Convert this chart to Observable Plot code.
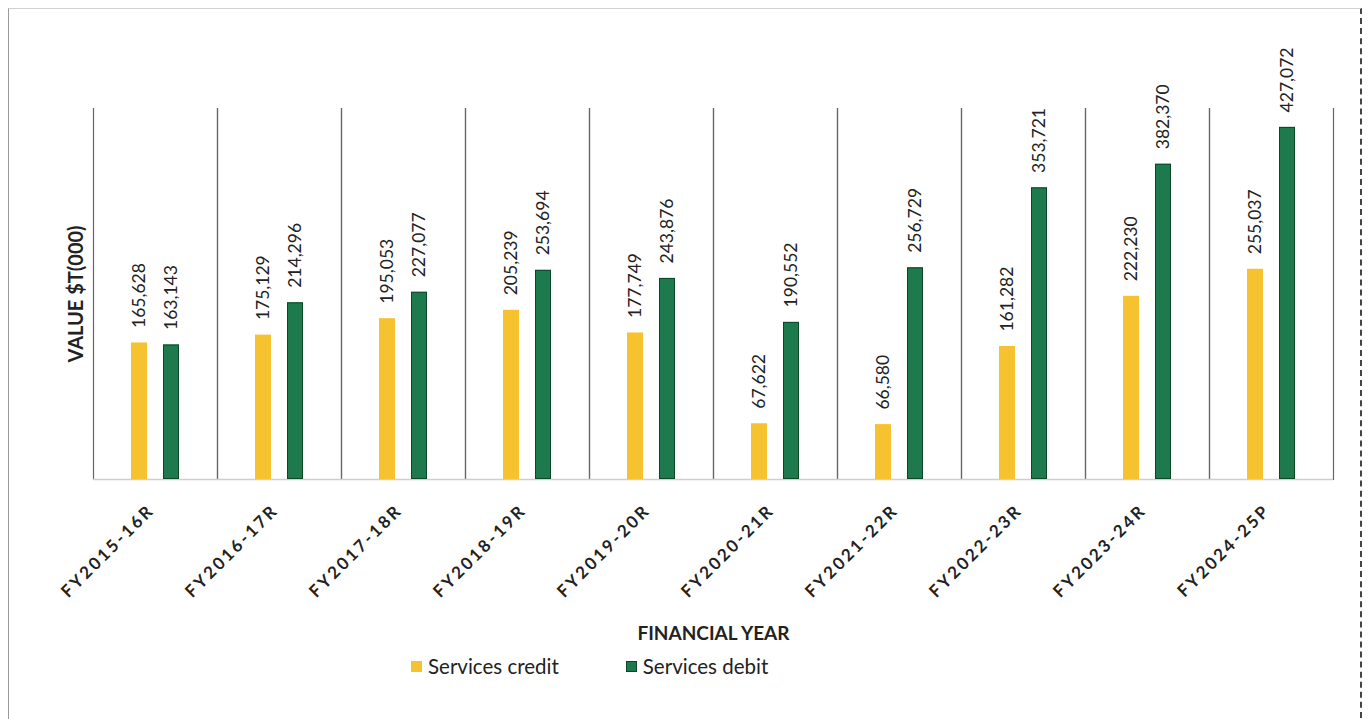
<!DOCTYPE html>
<html><head><meta charset="utf-8">
<script src="https://cdn.jsdelivr.net/npm/d3@7"></script>
<script src="https://cdn.jsdelivr.net/npm/@observablehq/plot@0.6"></script>
<style>
html,body{margin:0;padding:0;background:#fff;}
#wrap{position:relative;width:1368px;height:719px;overflow:hidden;font-family:Lato,"Open Sans",sans-serif;}
#border{position:absolute;left:8px;top:8px;width:1354px;height:730px;border-left:1.5px solid #999;border-top:1px solid #d0d0d0;border-right:2px dashed #444;box-sizing:border-box;}
#chart{position:absolute;left:0;top:0;}
#legend{position:absolute;top:654px;left:411px;display:flex;align-items:center;font-size:20.5px;color:#222;}
.item{display:flex;align-items:center;}
.sw{width:11px;height:11px;margin-right:6px;box-sizing:border-box;}
</style></head>
<body>
<div id="wrap"><div id="border"></div><div id="chart"></div><div id="legend"></div></div>
<script>
const years = ["FY2015-16R","FY2016-17R","FY2017-18R","FY2018-19R","FY2019-20R","FY2020-21R","FY2021-22R","FY2022-23R","FY2023-24R","FY2024-25P"];
const seriesNames = ["Services credit","Services debit"];
const credit = [165628,175129,195053,205239,177749,67622,66580,161282,222230,255037];
const debit = [163143,214296,227077,253694,243876,190552,256729,353721,382370,427072];
const colors = ["#F6C230","#1C7A4C"];
const yLabel = "VALUE $T(000)";
const xLabel = "FINANCIAL YEAR";

const data = years.flatMap((y,i)=>[
  {year:y, series:seriesNames[0], value:credit[i]},
  {year:y, series:seriesNames[1], value:debit[i]}
]);
const fmt = d3.format(",");

const chart = Plot.plot({
  width:1368, height:645,
  marginLeft:92, marginRight:35, marginTop:108, marginBottom:166,
  style:{fontFamily:"Lato, 'Open Sans', sans-serif", color:"#222", background:"transparent", overflow:"visible"},
  fx:{domain:years, padding:0, label:null, axis:null},
  x:{domain:seriesNames, paddingInner:0.5, paddingOuter:1.1875, axis:null},
  y:{domain:[0,450000], axis:null},
  color:{domain:seriesNames, range:colors},
  marks:[
    Plot.frame({anchor:"left", stroke:"#666", strokeWidth:1.2}),
    Plot.frame({anchor:"right", stroke:"#666", strokeWidth:1.2}),
    Plot.ruleY([0], {stroke:"#cfcfcf", strokeWidth:1.5}),
    Plot.barY(data, {fx:"year", x:"series", y:"value", fill:"series"}),
    Plot.barY(data.filter(d=>d.series===seriesNames[1]), {fx:"year", x:"series", y:"value", fill:"none", stroke:"#0d4529", strokeWidth:1, inset:0.5}),
    Plot.text(data, {fx:"year", x:"series", y:"value", text:d=>fmt(d.value), rotate:-90, textAnchor:"start", lineAnchor:"middle", dy:-15, fontSize:17.5, fill:"#222"}),
    Plot.axisFx({anchor:"bottom", domain:years, tickRotate:-45, tickSize:0, tickPadding:28, dx:-4, fontSize:17, fontWeight:"bold", label:xLabel, labelAnchor:"center", labelOffset:160, labelArrow:"none"}),
    Plot.text([yLabel], {fx:()=>years[0], frameAnchor:"left", textAnchor:"middle", rotate:-90, dx:-17, fontSize:20, fontWeight:"bold", fill:"#222", text:d=>d})
  ]
});
document.getElementById("chart").appendChild(chart);
chart.querySelectorAll('[aria-label="fx-axis tick label"] text').forEach(t=>t.setAttribute("letter-spacing","2.6"));
chart.querySelectorAll('[aria-label="fx-axis label"] text').forEach(t=>{t.setAttribute("font-size","19");t.setAttribute("font-weight","bold");t.setAttribute("letter-spacing","0");});

const legend = document.getElementById("legend");
seriesNames.forEach((s,i)=>{
  const item = document.createElement("div");
  item.className="item";
  if(i>0) item.style.marginLeft="67px";
  const sw = document.createElement("span");
  sw.className="sw"; sw.style.background=colors[i];
  if(i===1) sw.style.border="1px solid #0d4529";
  const tx = document.createElement("span"); tx.textContent=s;
  item.appendChild(sw); item.appendChild(tx);
  legend.appendChild(item);
});
</script>
</body></html>
